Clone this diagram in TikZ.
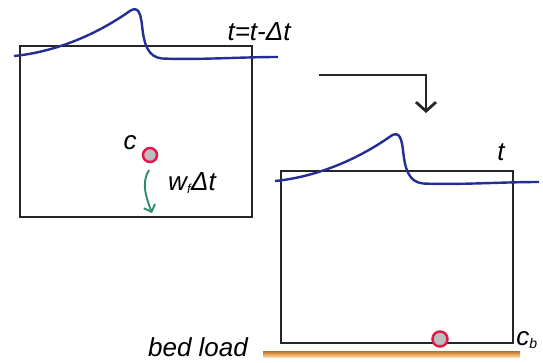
\documentclass[tikz,border=0pt]{standalone}
\usepackage{fontspec}
\setmainfont{Liberation Sans}
\usetikzlibrary{arrows.meta}
\definecolor{wave}{RGB}{35,45,150}
\definecolor{ring}{RGB}{225,25,75}
\definecolor{dot}{RGB}{190,190,190}
\definecolor{teal2}{RGB}{45,140,110}
\definecolor{orng}{RGB}{242,165,80}
\begin{document}
\begin{tikzpicture}[x=1pt,y=-1pt,
  boxline/.style={draw=black!85,line width=1.9pt},
  wavel/.style={draw=wave,line width=2.4pt},
  particle/.style={circle,draw=ring,fill=dot,line width=2.5pt,minimum size=14pt,inner sep=0pt},
  lbl/.style={font=\fontsize{26}{28}\selectfont\itshape,inner sep=0pt}]
\useasboundingbox (0,0) rectangle (543,362);
% boxes
\node[boxline,minimum width=232pt,minimum height=171pt,anchor=north west,inner sep=0pt] (box1) at (19,45) {};
\node[boxline,minimum width=232pt,minimum height=172pt,anchor=north west,inner sep=0pt] (box2) at (280,170) {};
% waves
\draw[wavel] (14,56) .. controls (55,52) and (95,35) .. (127,13) .. controls (136,6) and (140,8) .. (142,25) .. controls (144,45) and (148,57) .. (162,58.5) .. controls (200,60) and (240,57) .. (278,57);
\begin{scope}[shift={(261,125)}]
\draw[wavel] (14,56) .. controls (55,52) and (95,35) .. (127,13) .. controls (136,6) and (140,8) .. (142,25) .. controls (144,45) and (148,57) .. (162,58.5) .. controls (200,60) and (240,57) .. (278,57);
\end{scope}
% labels
\node[lbl] (t1) at (259,32) {t=t-Δt};
\node[lbl] (t2) at (501,152) {t};
\node[lbl] (c) at (130,143) {c};
\node[lbl] (wf) at (192,183) {w\textsubscript{\fontsize{13}{13}\selectfont f}Δt};
\node[lbl] (cb) at (527,340) {c\textsubscript{\fontsize{14}{14}\selectfont b}};
\node[lbl] (bl) at (198,347) {bed load};
% particles
\node[particle] (p1) at (150,155) {};
\node[particle,minimum size=15pt] (p2) at (440,339) {};
% settling arrow
\coordinate (s1) at (149,170);
\coordinate (s2) at (152,213);
\draw[teal2,line width=1.9pt,-{Straight Barb[length=6pt,width=12pt]}] (s1) .. controls (141,183) and (146,197) .. (s2);
% time arrow
\coordinate (a1) at (319,75);
\coordinate (a2) at (426,75);
\coordinate (a3) at (426,113);
\draw[black!85,line width=2.8pt,-{Straight Barb[length=9pt,width=20pt]}] (a1) -- (a2) -- (a3);
% bed load line
\shade[top color=orng!75!black,bottom color=orng!30,middle color=orng] (263,351.5) rectangle (520,357.5);
\end{tikzpicture}
\end{document}
